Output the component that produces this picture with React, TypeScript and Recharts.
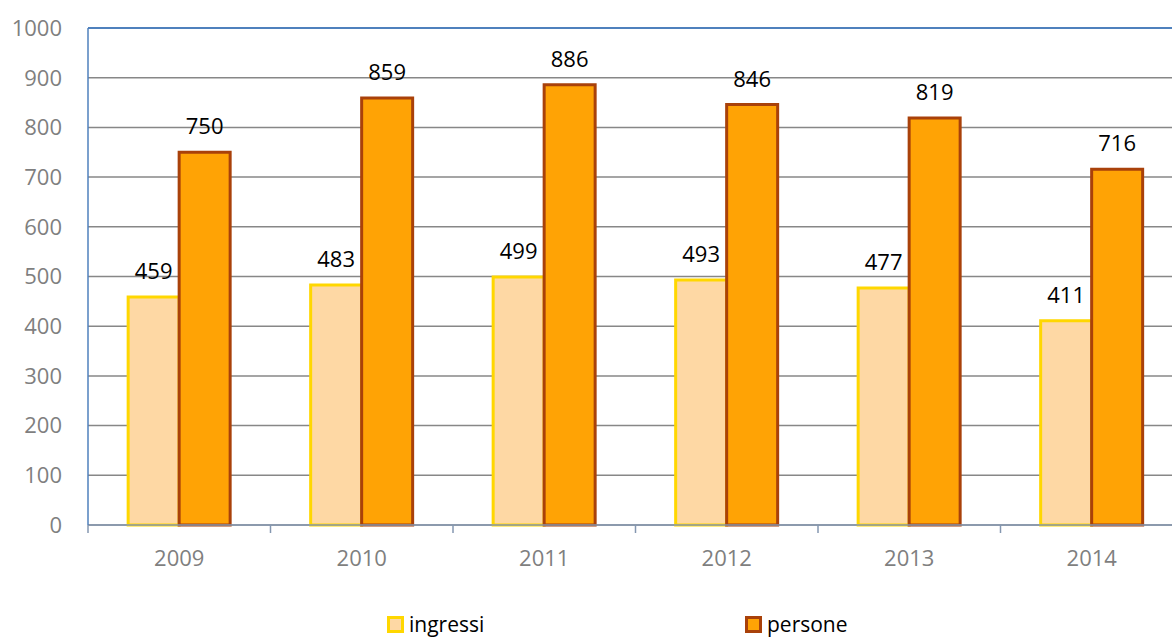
import React from "react";
import { BarChart, Bar, XAxis, YAxis, CartesianGrid, LabelList, ReferenceLine } from "recharts";

const years = ["2009", "2010", "2011", "2012", "2013", "2014"];
const ingressi = [459, 483, 499, 493, 477, 411];
const persone = [750, 859, 886, 846, 819, 716];
const yTicks = [0, 100, 200, 300, 400, 500, 600, 700, 800, 900, 1000];

const data = years.map((y, i) => ({ year: y, ingressi: ingressi[i], persone: persone[i] }));

const FONT = "'Open Sans', 'Noto Sans', sans-serif";
const CHART_W = 1190;
const PLOT_LEFT = 88;
const RIGHT_M = 7;
const BW = (CHART_W - PLOT_LEFT - RIGHT_M) / years.length;

const XTick = (props: any) => {
  const { x, y, payload } = props;
  const lx = x - BW / 2;
  return (
    <g>
      <line x1={lx} x2={lx} y1={y - 8} y2={y} stroke="#8497B0" strokeWidth={1.5} />
      <text x={x} y={y + 33} textAnchor="middle" fill="#7f7f7f" fontSize={22} fontFamily={FONT}>
        {payload.value}
      </text>
    </g>
  );
};

const legendItem = (left: number, fill: string, stroke: string, label: string) => (
  <div
    style={{
      position: "absolute",
      left,
      top: 614,
      height: 21,
      lineHeight: "21px",
      display: "flex",
      alignItems: "center",
      fontFamily: FONT,
      fontSize: 21,
      color: "#000",
      whiteSpace: "nowrap",
    }}
  >
    <span style={{ display: "inline-block", width: 11, height: 11, background: fill, border: `3px solid ${stroke}`, marginRight: 5 }} />
    {label}
  </div>
);

export default function App() {
  return (
    <div style={{ position: "absolute", left: 0, top: 0, width: 1172, height: 637, overflow: "hidden", background: "#fff" }}>
      <BarChart
        width={CHART_W}
        height={637}
        data={data}
        margin={{ top: 28, right: RIGHT_M, left: 0, bottom: 52 }}
        barCategoryGap="22%"
        barGap={0}
      >
        <CartesianGrid vertical={false} stroke="#878787" strokeWidth={1.5} />
        <XAxis
          dataKey="year"
          height={60}
          axisLine={{ stroke: "#8497B0", strokeWidth: 1.5 }}
          tickLine={false}
          tick={<XTick />}
          interval={0}
        />
        <YAxis
          width={PLOT_LEFT}
          domain={[0, 1000]}
          ticks={yTicks}
          interval={0}
          axisLine={{ stroke: "#4F81BD", strokeWidth: 1.5 }}
          tickLine={false}
          tickSize={6}
          tickMargin={20}
          tick={{ fill: "#7f7f7f", fontSize: 22, fontFamily: FONT }}
        />
        <ReferenceLine y={1000} stroke="#4F81BD" strokeWidth={2} />
        <Bar dataKey="ingressi" fill="#FED8A4" stroke="#FFD700" strokeWidth={3} isAnimationActive={false}>
          <LabelList dataKey="ingressi" position="top" offset={18} fill="#000" fontSize={22} fontFamily={FONT} />
        </Bar>
        <Bar dataKey="persone" fill="#FFA305" stroke="#A9410A" strokeWidth={3} isAnimationActive={false}>
          <LabelList dataKey="persone" position="top" offset={18} fill="#000" fontSize={22} fontFamily={FONT} />
        </Bar>
      </BarChart>
      {legendItem(387, "#FED8A4", "#FFD700", "ingressi")}
      {legendItem(745, "#FFA305", "#A9410A", "persone")}
    </div>
  );
}
